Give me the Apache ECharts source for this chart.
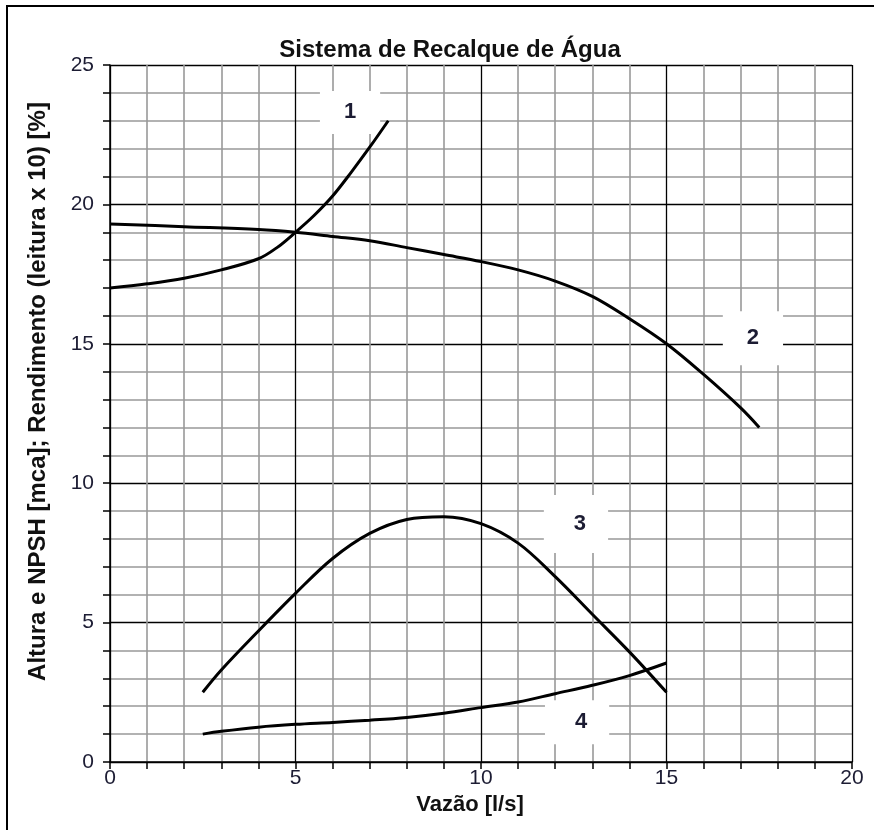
<!DOCTYPE html>
<html>
<head>
<meta charset="utf-8">
<script src="https://cdn.jsdelivr.net/npm/echarts@6/dist/echarts.min.js"></script>
<style>
  html, body { margin: 0; padding: 0; background: #fff; }
  #chart { width: 874px; height: 830px; }
</style>
</head>
<body>
<div id="chart"></div>
<script>
  // curva 1 (sistema)
  const curve1X = [0, 1, 2, 3, 4, 4.5, 5, 5.5, 6, 6.5, 7, 7.5]
  const curve1Y = [17.0, 17.15, 17.35, 17.65, 18.05, 18.45, 19.0, 19.6, 20.3, 21.15, 22.05, 23.0]
  // curva 2 (altura da bomba)
  const curve2X = [0, 2, 4, 5, 6, 7, 8, 9, 10, 11, 12, 13, 14, 15, 16, 17, 17.5]
  const curve2Y = [19.3, 19.2, 19.1, 19.0, 18.85, 18.7, 18.45, 18.2, 17.95, 17.65, 17.25, 16.7, 15.9, 15.0, 13.9, 12.7, 12.0]
  // curva 3 (rendimento)
  const curve3X = [2.5, 3, 4, 5, 6, 7, 8, 9, 10, 11, 12, 13, 14, 15]
  const curve3Y = [2.5, 3.3, 4.7, 6.05, 7.3, 8.2, 8.7, 8.8, 8.55, 7.85, 6.65, 5.3, 3.95, 2.5]
  // curva 4 (NPSH)
  const curve4X = [2.5, 3, 4, 5, 6, 7, 8, 9, 10, 11, 12, 13, 14, 15]
  const curve4Y = [1.0, 1.1, 1.25, 1.35, 1.42, 1.5, 1.6, 1.75, 1.95, 2.15, 2.45, 2.75, 3.1, 3.55]
  // rótulos das curvas
  const labelText = ['1', '2', '3', '4']
  const labelX = [6.47, 17.33, 12.56, 12.59]
  const labelY = [23.3, 15.2, 8.54, 1.43]

  const xTicks = [0, 5, 10, 15, 20]
  const yTicks = [0, 5, 10, 15, 20, 25]

  const labelPadding = [[10, 24, 11, 24], [6, 24, 26, 24], [4, 22, 32, 30], [6, 22, 16, 30]]

  function pairs(xs, ys) {
    return xs.map((x, i) => [x, ys[i]])
  }

  const chart = echarts.init(document.getElementById('chart'))

  const lineStyle = {color: '#000', width: 3}
  const curveSeries = [
    [curve1X, curve1Y], [curve2X, curve2Y], [curve3X, curve3Y], [curve4X, curve4Y]
  ].map(([xs, ys]) => ({
    type: 'line',
    data: pairs(xs, ys),
    smooth: 0.35,
    showSymbol: false,
    symbol: 'none',
    lineStyle: lineStyle,
    z: 5,
    animation: false
  }))

  chart.setOption({
    backgroundColor: '#fff',
    animation: false,
    title: {
      text: 'Sistema de Recalque de Água',
      left: 445,
      top: 33,
      textAlign: 'center',
      textStyle: {fontFamily: 'Liberation Sans', fontWeight: 'bold', fontSize: 24, color: '#111'}
    },
    graphic: [{
      type: 'rect',
      shape: {x: 7, y: 6, width: 1000, height: 1000},
      style: {fill: 'none', stroke: '#000', lineWidth: 2},
      z: 100
    }],
    grid: {left: 110, right: 22, top: 65, bottom: 68},
    xAxis: {
      type: 'value',
      min: xTicks[0],
      max: xTicks[xTicks.length - 1],
      interval: 5,
      name: 'Vazão [l/s]',
      nameLocation: 'middle',
      nameGap: 30,
      nameTextStyle: {fontFamily: 'Liberation Sans', fontWeight: 'bold', fontSize: 22, color: '#111', padding: [0, 22, 0, 0]},
      axisLine: {lineStyle: {color: '#000', width: 1.5}},
      axisTick: {show: true, length: 7, lineStyle: {color: '#000', width: 1.5}},
      minorTick: {show: true, splitNumber: 5, length: 7, lineStyle: {color: '#000', width: 1.5}},
      axisLabel: {fontFamily: 'Liberation Sans', fontSize: 21, color: '#1c1c33', margin: 6},
      splitLine: {show: true, lineStyle: {color: '#000', width: 1.3}},
      minorSplitLine: {show: true, lineStyle: {color: '#999', width: 1.6}}
    },
    yAxis: {
      type: 'value',
      min: yTicks[0],
      max: yTicks[yTicks.length - 1],
      interval: 5,
      name: 'Altura e NPSH [mca]; Rendimento (leitura x 10) [%]',
      nameLocation: 'middle',
      nameGap: 60,
      nameTextStyle: {fontFamily: 'Liberation Sans', fontWeight: 'bold', fontSize: 24, color: '#111', padding: [0, 0, 0, 44]},
      axisLine: {show: true, lineStyle: {color: '#000', width: 1.5}},
      axisTick: {show: true, length: 7, lineStyle: {color: '#000', width: 1.5}},
      minorTick: {show: true, splitNumber: 5, length: 7, lineStyle: {color: '#000', width: 1.5}},
      axisLabel: {fontFamily: 'Liberation Sans', fontSize: 21, color: '#1c1c33', margin: 16},
      splitLine: {show: true, lineStyle: {color: '#000', width: 1.3}},
      minorSplitLine: {show: true, lineStyle: {color: '#999', width: 1.6}}
    },
    series: curveSeries.concat([{
      type: 'scatter',
      z: 2,
      symbolSize: 0,
      itemStyle: {color: '#fff', opacity: 1},
      data: labelText.map((t, i) => ({
        value: [labelX[i], labelY[i], t],
        label: {padding: labelPadding[i]}
      })),
      label: {
        show: true,
        position: 'inside',
        formatter: p => p.value[2],
        backgroundColor: '#fff',
        opacity: 1,
        fontFamily: 'Liberation Sans',
        fontWeight: 'bold',
        fontSize: 22,
        color: '#1c1c33'
      },
      emphasis: {disabled: true},
      labelLayout: {hideOverlap: false},
      silent: true
    }])
  })
</script>
</body>
</html>
